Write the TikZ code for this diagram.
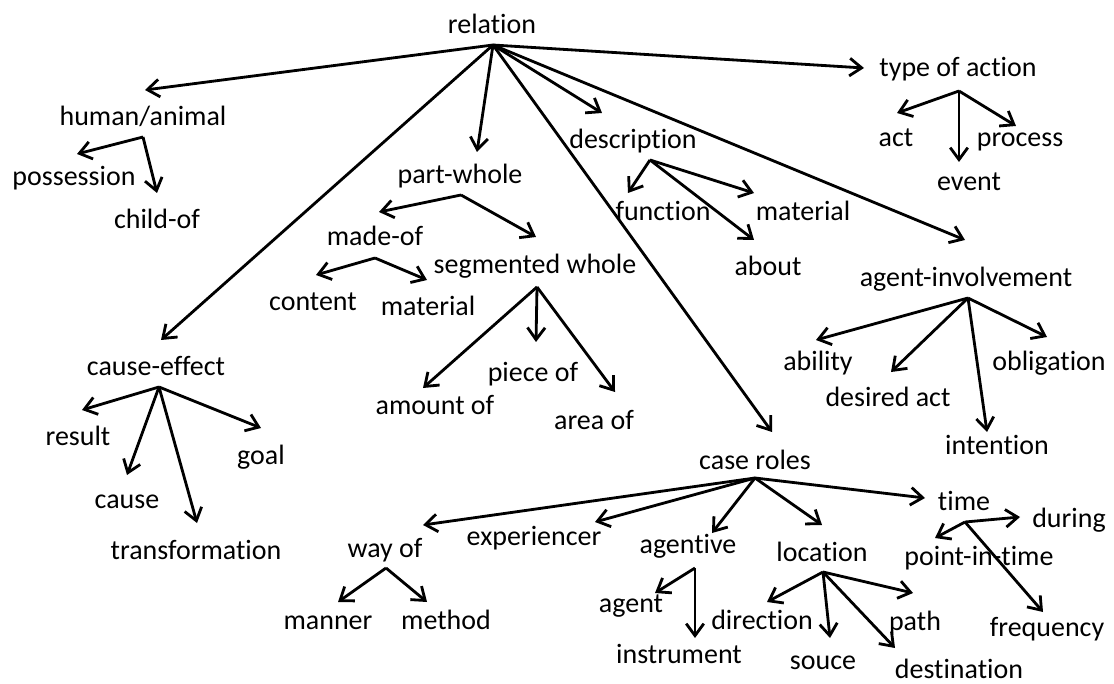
\documentclass[tikz,border=0pt]{standalone}
\usepackage{fontspec}
\setmainfont{Carlito}[Ligatures=NoCommon]
\usetikzlibrary{arrows.meta}
\tikzset{>={Straight Barb[length=3mm,width=4.4mm]}}

\begin{document}
\begin{tikzpicture}[x=.25mm, y=-.25mm,
    lbl/.style={inner sep=0pt, anchor=base, font=\fontsize{19.9}{24}\selectfont},
    arr/.style={line width=2pt, ->}]
    \useasboundingbox(0, 0)rectangle(1114, 684);
    % labels, with the tip of the arrow that reaches each one
    \node[lbl](rel)at(492, 34){relation};		\coordinate(rel-f)at(493, 45);
    \node[lbl](hum)at(143, 126){human/animal};		\coordinate(hum-t)at(145, 90);	\coordinate(hum-f)at(143, 137);
    \node[lbl](pos)at(74, 186){possession};		\coordinate(pos-t)at(77, 154);
    \node[lbl](chi)at(157, 229){child-of};		\coordinate(chi-t)at(157, 193);
    \node[lbl](pw)at(460, 184){part-whole};		\coordinate(pw-t)at(477, 152);	\coordinate(pw-f)at(461, 195);
    \node[lbl](mad)at(375, 246){made-of};		\coordinate(mad-t)at(379, 212);	\coordinate(mad-f)at(375, 258);
    \node[lbl](seg)at(535, 274){segmented whole};	\coordinate(seg-t)at(536, 237);	\coordinate(seg-f)at(537, 287);
    \node[lbl](con)at(313, 311){content};		\coordinate(con-t)at(316, 275);
    \node[lbl](mat)at(428, 316){material};		\coordinate(mat-t)at(427, 280);
    \node[lbl](amo)at(435, 414){amount of};		\coordinate(amo-t)at(423, 388);
    \node[lbl](pie)at(533, 381){piece of};		\coordinate(pie-t)at(536, 342);
    \node[lbl](are)at(594, 429){area of};		\coordinate(are-t)at(615, 392);
    \node[lbl](ce)at(156, 376){cause-effect};		\coordinate(ce-t)at(161, 340);	\coordinate(ce-f)at(159, 387);
    \node[lbl](res)at(78, 445){result};			\coordinate(res-t)at(82, 410);
    \node[lbl](goa)at(261, 464){goal};			\coordinate(goa-t)at(261, 428);
    \node[lbl](cau)at(127, 508){cause};			\coordinate(cau-t)at(127, 475);
    \node[lbl](tra)at(196, 559){transformation};	\coordinate(tra-t)at(197, 523);
    \node[lbl](toa)at(958, 77){type of action};		\coordinate(toa-t)at(864, 68);	\coordinate(toa-f)at(959, 91);
    \node[lbl](act)at(896, 147){act};			\coordinate(act-t)at(897, 113);
    \node[lbl](pro)at(1020, 147){process};		\coordinate(pro-t)at(1016, 126);
    \node[lbl](eve)at(969, 191){event};			\coordinate(eve-t)at(959, 162);
    \node[lbl](des)at(633, 149){description};		\coordinate(des-t)at(602, 113);	\coordinate(des-f)at(650, 160);
    \node[lbl](fun)at(663, 221){function};		\coordinate(fun-t)at(628, 193);
    \node[lbl](dmat)at(803, 221){material};		\coordinate(dmat-t)at(754, 193);
    \node[lbl](abo)at(768, 276){about};			\coordinate(abo-t)at(754, 240);
    \node[lbl](ai)at(966, 287){agent-involvement};	\coordinate(ai-t)at(965, 240);	\coordinate(ai-f)at(968, 298);
    \node[lbl](abi)at(818, 371){ability};		\coordinate(abi-t)at(816, 340);
    \node[lbl](dac)at(888, 406){desired act};		\coordinate(dac-t)at(891, 372);
    \node[lbl](obl)at(1049, 371){obligation};		\coordinate(obl-t)at(1047, 337);
    \node[lbl](int)at(997, 454){intention};		\coordinate(int-t)at(987, 432);
    \node[lbl](cr)at(755, 469){case roles};		\coordinate(cr-t)at(772, 432);	\coordinate(cr-f)at(755, 478);
    \node[lbl](way)at(385, 557){way of};		\coordinate(way-t)at(423, 525);	\coordinate(way-f)at(386, 568);
    \node[lbl](man)at(328, 629){manner};		\coordinate(man-t)at(338, 602);
    \node[lbl](met)at(446, 629){method};		\coordinate(met-t)at(427, 602);
    \node[lbl](exp)at(534, 545){experiencer};		\coordinate(exp-t)at(595, 522);
    \node[lbl](agv)at(688, 553){agentive};		\coordinate(agv-t)at(712, 533);	\coordinate(agv-f)at(695, 568);
    \node[lbl](agt)at(631, 612){agent};			\coordinate(agt-t)at(655, 593);
    \node[lbl](ins)at(679, 663){instrument};		\coordinate(ins-t)at(695, 638);
    \node[lbl](loc)at(822, 561){location};		\coordinate(loc-t)at(822, 525);	\coordinate(loc-f)at(823, 572);
    \node[lbl](dir)at(762, 629){direction};		\coordinate(dir-t)at(767, 602);
    \node[lbl](sou)at(823, 669){souce};			\coordinate(sou-t)at(830, 638);
    \node[lbl](pat)at(915, 630){path};			\coordinate(pat-t)at(913, 593);
    \node[lbl](dst)at(959, 678){destination};		\coordinate(dst-t)at(895, 648);
    \node[lbl](tim)at(964, 510){time};			\coordinate(tim-t)at(925, 498);	\coordinate(tim-f)at(965, 522);
    \node[lbl](dur)at(1069, 527){during};		\coordinate(dur-t)at(1020, 517);
    \node[lbl](pit)at(979, 565){point-in-time};		\coordinate(pit-t)at(935, 538);
    \node[lbl](fre)at(1047, 636){frequency};		\coordinate(fre-t)at(1043, 612);
    % arrows
    \draw[arr](rel-f)--(hum-t);	\draw[arr](rel-f)--(ce-t);	\draw[arr](rel-f)--(pw-t);
    \draw[arr](rel-f)--(des-t);	\draw[arr](rel-f)--(cr-t);	\draw[arr](rel-f)--(ai-t);
    \draw[arr](rel-f)--(toa-t);
    \draw[arr](hum-f)--(pos-t);	\draw[arr](hum-f)--(chi-t);
    \draw[arr](pw-f)--(mad-t);	\draw[arr](pw-f)--(seg-t);
    \draw[arr](mad-f)--(con-t);	\draw[arr](mad-f)--(mat-t);
    \draw[arr](seg-f)--(amo-t);	\draw[arr](seg-f)--(pie-t);	\draw[arr](seg-f)--(are-t);
    \draw[arr](ce-f)--(res-t);	\draw[arr](ce-f)--(cau-t);	\draw[arr](ce-f)--(tra-t);
    \draw[arr](ce-f)--(goa-t);
    \draw[arr](toa-f)--(act-t);	\draw[arr](toa-f)--(eve-t);	\draw[arr](toa-f)--(pro-t);
    \draw[arr](des-f)--(fun-t);	\draw[arr](des-f)--(abo-t);	\draw[arr](des-f)--(dmat-t);
    \draw[arr](ai-f)--(abi-t);	\draw[arr](ai-f)--(dac-t);	\draw[arr](ai-f)--(int-t);
    \draw[arr](ai-f)--(obl-t);
    \draw[arr](cr-f)--(way-t);	\draw[arr](cr-f)--(exp-t);	\draw[arr](cr-f)--(agv-t);
    \draw[arr](cr-f)--(loc-t);	\draw[arr](cr-f)--(tim-t);
    \draw[arr](way-f)--(man-t);	\draw[arr](way-f)--(met-t);
    \draw[arr](agv-f)--(agt-t);	\draw[arr](agv-f)--(ins-t);
    \draw[arr](loc-f)--(dir-t);	\draw[arr](loc-f)--(sou-t);	\draw[arr](loc-f)--(dst-t);
    \draw[arr](loc-f)--(pat-t);
    \draw[arr](tim-f)--(pit-t);	\draw[arr](tim-f)--(dur-t);	\draw[arr](tim-f)--(fre-t);
\end{tikzpicture}
\end{document}
